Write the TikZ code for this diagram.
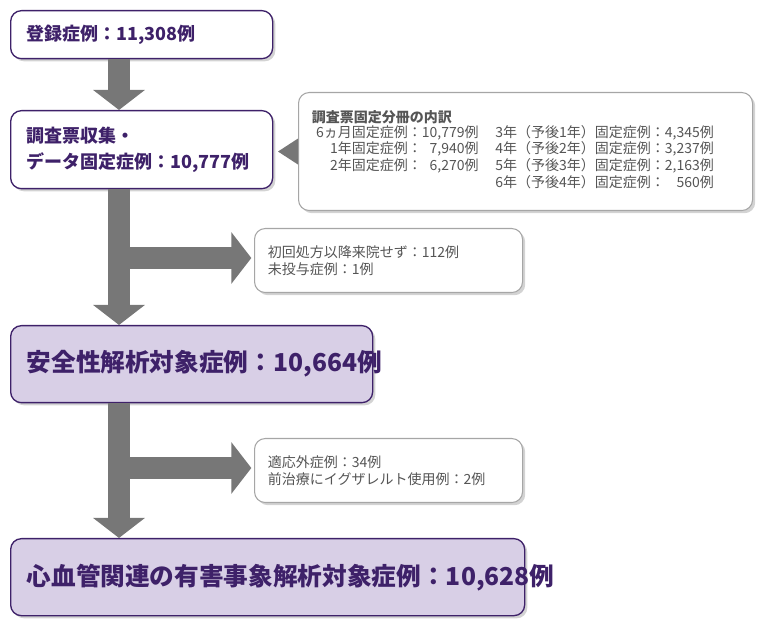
\documentclass[tikz,border=0pt]{standalone}
\usepackage{fontspec}
\setmainfont{Noto Sans CJK JP}
\usetikzlibrary{arrows.meta, shadows, positioning}
\definecolor{frame}{HTML}{3E2169}
\definecolor{lav}{HTML}{D8CFE6}
\definecolor{shaft}{HTML}{777777}
\definecolor{note}{HTML}{555555}

\begin{document}
\begin{tikzpicture}[
    x=0.75pt, y=-0.75pt,
    mainbox/.style={draw=frame, line width=1pt, fill=white, rounded corners=8pt, anchor=north west,
        align=left, inner xsep=12pt, text=frame, font=\bfseries, drop shadow={opacity=0.35, shadow xshift=2pt, shadow yshift=-2pt}},
    sidebox/.style={draw=gray!70, line width=0.8pt, fill=white, rounded corners=8pt, anchor=north west,
        align=left, inner xsep=10pt, text=note, font=\fontsize{10.5}{13}\selectfont, drop shadow={opacity=0.35, shadow xshift=2pt, shadow yshift=-2pt}},
    flow/.style={draw=shaft, line width=16pt, -{Triangle[length=15pt, width=38pt]}}
]
\useasboundingbox (0,0) rectangle (769,631);

% main column
\node[mainbox, text width=262*0.75pt-24pt, minimum height=48*0.75pt, font=\bfseries\fontsize{13.5}{17}\selectfont] (reg) at (10,10) {登録症例：11,308例};
\node[mainbox, text width=262*0.75pt-24pt, minimum height=78*0.75pt, font=\bfseries\fontsize{13.5}{19}\selectfont] (coll) at (10,110) {調査票収集・\\データ固定症例：10,777例};
\node[mainbox, fill=lav, text width=362*0.75pt-24pt, minimum height=77*0.75pt, font=\bfseries\fontsize{18.5}{22}\selectfont] (safe) at (10,325) {安全性解析対象症例：10,664例};
\node[mainbox, fill=lav, text width=514*0.75pt-24pt, minimum height=77*0.75pt, font=\bfseries\fontsize{18.5}{22}\selectfont] (cv) at (10,538) {心血管関連の有害事象解析対象症例：10,628例};

% side notes
\node[sidebox, text width=454*0.75pt-20pt, minimum height=118*0.75pt] (split) at (298,92) {%
  {\bfseries 調査票固定分冊の内訳}\\
  \renewcommand{\arraystretch}{0.95}%
  \begin{tabular}{@{\hspace{0.3em}}r@{}r@{\hspace{1.2em}}r@{}r@{}}
  6ヵ月固定症例：&10,779例 & 3年（予後1年）固定症例：&4,345例\\
  1年固定症例：&7,940例 & 4年（予後2年）固定症例：&3,237例\\
  2年固定症例：&6,270例 & 5年（予後3年）固定症例：&2,163例\\
  & & 6年（予後4年）固定症例：&560例
  \end{tabular}};
\node[sidebox, text width=268*0.75pt-20pt, minimum height=64*0.75pt] (excl1) at (254,228) {初回処方以降来院せず：112例\\未投与症例：1例};
\node[sidebox, text width=268*0.75pt-20pt, minimum height=64*0.75pt] (excl2) at (254,438) {適応外症例：34例\\前治療にイグザレルト使用例：2例};

% pointer into the breakdown box
\fill[shaft] (split.west) ++(0,-13) -- ++(-20,13) -- ++(20,13) -- cycle;

% branch points
\coordinate (b1) at (119,258);
\coordinate (b2) at (119,468);

% arrows
\draw[flow] (reg.south -| b1) -- (coll.north -| b1);
\draw[flow] (coll.south -| b1) -- (safe.north -| b1);
\draw[flow, shorten >=2pt] ([xshift=-8pt]b1) -- (excl1.west |- b1);
\draw[flow] (safe.south -| b2) -- (cv.north -| b2);
\draw[flow, shorten >=2pt] ([xshift=-8pt]b2) -- (excl2.west |- b2);
\end{tikzpicture}
\end{document}
